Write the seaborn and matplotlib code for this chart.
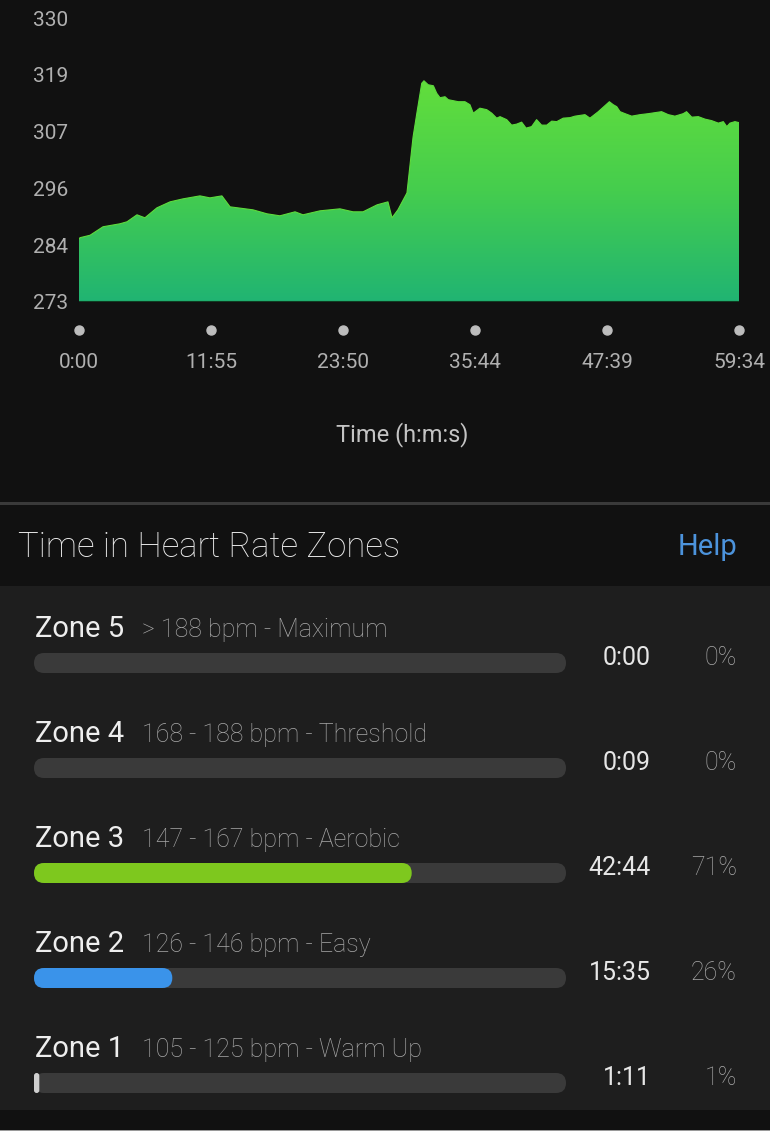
import numpy as np
import pandas as pd
import matplotlib
matplotlib.use("Agg")
import matplotlib.pyplot as plt
import seaborn as sns
from matplotlib.colors import LinearSegmentedColormap
from matplotlib.patches import FancyBboxPatch, Rectangle
from matplotlib.transforms import IdentityTransform, blended_transform_factory

# ---------------- data ----------------
time_s = [0, 5, 60, 130, 222, 260, 314, 357, 422, 493, 563, 655, 709, 774, 818,
          942, 1018, 1088, 1170, 1213, 1305, 1413, 1484, 1538, 1614, 1673, 1695,
          1727, 1776, 1809, 1830, 1856, 1868, 1891, 1919, 1937, 1955, 1982, 2000,
          2027, 2054, 2090, 2117, 2135, 2171, 2208, 2235, 2262, 2280, 2316, 2343,
          2370, 2397, 2421, 2451, 2478, 2505, 2533, 2560, 2587, 2622, 2659, 2686,
          2740, 2767, 2812, 2848, 2872, 2893, 2912, 2930, 2957, 2993, 3038, 3083,
          3119, 3155, 3191, 3227, 3272, 3290, 3318, 3354, 3390, 3426, 3462, 3489,
          3508, 3525, 3552, 3574]
heart = [285.6, 285.9, 286.4, 288.1, 288.7, 289.1, 290.5, 289.9, 291.9, 293.1,
         293.7, 294.3, 293.9, 294.3, 292.1, 291.5, 290.7, 290.3, 291.1, 290.5,
         291.3, 291.7, 291.1, 291.1, 292.5, 293.1, 289.9,
         291.5, 294.9, 306.1, 311.0, 316.9, 317.4, 316.6, 316.4, 314.9, 314.0,
         314.2, 313.6, 313.4, 313.2, 313.2, 312.6, 310.9, 311.9, 311.6, 310.9,
         309.9, 310.2, 309.6, 308.5, 308.7, 309.1, 307.9, 308.2, 309.6, 308.5,
         308.5, 309.3, 309.2, 309.9, 310.0, 310.3, 310.6, 309.9, 311.2, 312.4,
         313.2, 312.6, 312.2, 311.2, 310.8, 310.3, 310.6, 310.8, 311.0, 311.2,
         310.6, 310.3, 310.8, 311.2, 310.1, 310.2, 309.7, 309.4, 308.9, 309.2,
         308.2, 308.9, 309.2, 309.0]
y_tick_labels = ["273", "284", "296", "307", "319", "330"]
x_tick_secs = [0, 715, 1430, 2144, 2859, 3574]
x_tick_labels = ["0:00", "11:55", "23:50", "35:44", "47:39", "59:34"]

zones = ["Zone 5", "Zone 4", "Zone 3", "Zone 2", "Zone 1"]
zone_ranges = ["> 188 bpm - Maximum", "168 - 188 bpm - Threshold",
               "147 - 167 bpm - Aerobic", "126 - 146 bpm - Easy",
               "105 - 125 bpm - Warm Up"]
zone_pct = [0, 0, 71, 26, 1]
zone_times = ["0:00", "0:09", "42:44", "15:35", "1:11"]
zone_pct_labels = ["0%", "0%", "71%", "26%", "1%"]
zone_colors = ["#cfcfcf", "#cfcfcf", "#7ec81e", "#3a93ea", "#cfcfcf"]

# ---------------- setup ----------------
W, H = 770, 1131
sns.set_theme(style="dark")
plt.rcParams['font.family'] = ['Roboto', 'DejaVu Sans']
fig = plt.figure(figsize=(W / 100, H / 100), dpi=100, facecolor="#111111")


def fx(px):
    return px / W


def fy(py):
    return 1 - py / H


# backgrounds
fig.add_artist(Rectangle((0, fy(1110)), 1, fy(586) - fy(1110), transform=fig.transFigure,
                         facecolor="#1e1e1e", edgecolor="none", zorder=0))
fig.add_artist(Rectangle((0, fy(505)), 1, fy(502) - fy(505), transform=fig.transFigure,
                         facecolor="#3a3a3a", edgecolor="none", zorder=0))
fig.add_artist(Rectangle((0, fy(1131)), 1, fy(1129.5) - fy(1131), transform=fig.transFigure,
                         facecolor="#9a9a9a", edgecolor="none", zorder=0))

# ---------------- area chart ----------------
df = pd.DataFrame({"t": time_s, "hr": heart})
ax = fig.add_axes([fx(79), fy(302), fx(739) - fx(79), fy(18) - fy(302)])
ax.set_facecolor("none")
ymin, ymax = 273, 330

poly = ax.fill_between(df["t"], ymin, df["hr"], facecolor="none", edgecolor="none")
cmap = LinearSegmentedColormap.from_list("g", ["#20b473", "#45cd4e", "#62de3c"])
grad = np.linspace(0, 1, 256).reshape(-1, 1)
im = ax.imshow(grad, extent=[df["t"].min(), df["t"].max(), ymin, df["hr"].max()],
               origin="lower", aspect="auto", cmap=cmap, zorder=1)
im.set_clip_path(poly.get_paths()[0], transform=ax.transData)
sns.lineplot(data=df, x="t", y="hr", ax=ax, color="#5edb3d", lw=0.8, zorder=2)
ax.axhline(ymin, color="#0f3d22", lw=1.5, zorder=3)

ax.set_xlim(0, 3574)
ax.set_ylim(ymin, ymax)
ax.grid(False)
for s in ax.spines.values():
    s.set_visible(False)
ax.set_yticks(np.linspace(ymin, ymax, 6))
ax.set_yticklabels(y_tick_labels, color="#b0b0b0", fontsize=15)
ax.tick_params(axis="y", length=0, pad=8)
ax.set_xticks(x_tick_secs)
ax.set_xticklabels(x_tick_labels, color="#b0b0b0", fontsize=15)
ax.tick_params(axis="x", length=0, pad=36.5)
ax.plot(x_tick_secs, [-28 / 284] * len(x_tick_secs), "o", ms=6.5, color="#bdbdbd",
        transform=ax.get_xaxis_transform(), clip_on=False, zorder=4)
ax.set_ylabel("")
ax.set_xlabel("Time (h:m:s)", fontsize=17, color="#c4c4c4")
ax.xaxis.label.set_va("center")
ax.xaxis.set_label_coords(0.49, (302 - 435) / 284)

# ---------------- header ----------------
fig.text(fx(18), fy(547), "Time in Heart Rate Zones", fontsize=25, color="#ececec",
         ha="left", va="center", fontweight="light")
fig.text(fx(737), fy(547), "Help", fontsize=21, color="#4c93dc",
         ha="right", va="center")

# ---------------- zones ----------------
zax = fig.add_axes([fx(34), fy(1110), fx(566) - fx(34), fy(600) - fy(1110)])
dfz = pd.DataFrame({"zone": zones, "pct": zone_pct, "full": [100] * len(zones)})
sns.barplot(data=dfz, x="full", y="zone", color="#3a3a3a", saturation=1,
            width=20 / 105, ax=zax, orient="h")
sns.barplot(data=dfz, x="pct", y="zone", hue="zone", palette=zone_colors, saturation=1,
            width=20 / 105, ax=zax, orient="h", legend=False)
zax.set_xlim(0, 100)
zax.set_ylim((1110 - 663) / 105, (600 - 663) / 105)
zax.axis("off")

for k, p in enumerate(list(zax.patches)):
    x0, y0, w, h = p.get_x(), p.get_y(), p.get_width(), p.get_height()
    fc = p.get_facecolor()
    (X0, Y0), (X1, Y1) = zax.transData.transform([(x0, y0), (x0 + w, y0 + h)])
    X0, X1 = sorted([X0, X1])
    Y0, Y1 = sorted([Y0, Y1])
    pw, ph = X1 - X0, Y1 - Y0
    p.remove()
    if pw < 0.5:
        continue
    r = min(pw, ph) / 2
    fig.add_artist(FancyBboxPatch((X0, Y0), pw, ph,
                                  boxstyle=f"round,pad=0,rounding_size={r}",
                                  transform=IdentityTransform(), facecolor=fc,
                                  edgecolor="none", zorder=5 + k))

tr = blended_transform_factory(fig.transFigure, zax.transData)
for i in range(len(zones)):
    zax.text(fx(35), i - 26 / 105, zones[i], transform=tr, va="baseline", ha="left",
             fontsize=21, color="#eeeeee")
    zax.text(fx(142), i - 26 / 105, zone_ranges[i], transform=tr, va="baseline", ha="left",
             fontsize=18, color="#a8a8a8", fontweight="light")
    zax.text(fx(651), i - 5 / 105, zone_times[i], transform=tr, va="center", ha="right",
             fontsize=18, color="#e6e6e6")
    zax.text(fx(737), i - 5 / 105, zone_pct_labels[i], transform=tr, va="center", ha="right",
             fontsize=18, color="#a8a8a8", fontweight="light")

fig.savefig("out.png", dpi=100, facecolor=fig.get_facecolor())
